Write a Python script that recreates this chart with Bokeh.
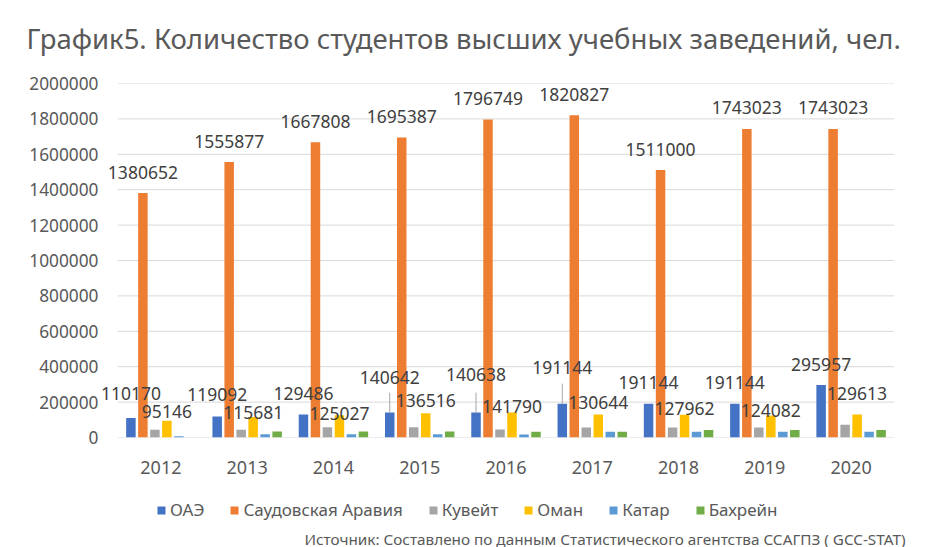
from bokeh.plotting import figure
from bokeh.layouts import column
from bokeh.models import (ColumnDataSource, LabelSet, Label, Legend, LegendItem, Title,
                          FixedTicker, NumeralTickFormatter, Range1d)
from bokeh.transform import dodge
from bokeh.core.properties import value
from bokeh.embed import file_html
from bokeh.resources import INLINE

# ---------------- data ----------------
years = ["2012", "2013", "2014", "2015", "2016", "2017", "2018", "2019", "2020"]
uae = [110170, 119092, 129486, 140642, 140638, 191144, 191144, 191144, 295957]
saudi = [1380652, 1555877, 1667808, 1695387, 1796749, 1820827, 1511000, 1743023, 1743023]
kuwait = [44000, 44000, 58000, 58000, 45000, 57000, 57000, 57000, 72000]
oman = [95146, 115681, 125027, 136516, 141790, 130644, 127962, 124082, 129613]
qatar = [7000, 19000, 19000, 19000, 17000, 32000, 32000, 32000, 32000]
bahrain = [0, 34000, 34000, 34000, 32000, 32000, 43000, 43000, 43000]
series_names = ["ОАЭ", "Саудовская Аравия", "Кувейт", "Оман", "Катар", "Бахрейн"]
y_ticks = [0, 200000, 400000, 600000, 800000, 1000000, 1200000, 1400000, 1600000, 1800000, 2000000]
title_text = "График5. Количество студентов высших учебных заведений, чел."
source_text = "Источник: Составлено по данным Статистического агентства ССАГПЗ ( GCC-STAT)"

# ---------------- styles ----------------
colors = ["#4472C4", "#ED7D31", "#A5A5A5", "#FFC000", "#5B9BD5", "#70AD47"]
uae_label_up = [24, 22, 21, 35, 38, 36, 21, 21, 21]
oman_label_up = [9, 5, 2, 13, 6, 12, 6, 5, 21]
saudi_label_up = [21] * 9
uae_leader = [False, False, False, True, True, True, False, False, False]
leader_px = 20

FONT = "Noto Sans"
TXT = "#595959"
LBL = "#404040"

W = 926
H1 = 490
H2 = 57
FRAME_LEFT = 100
FRAME_TOP = 83
FRAME_H = 354
FRAME_W = 811
YMAX = 2000000
units_per_px = YMAX / FRAME_H
pos = list(range(len(years)))

p = figure(x_range=Range1d(-0.7, 8.7), y_range=Range1d(0, YMAX), title=None,
           width=W, height=H1, output_backend="svg", toolbar_location=None,
           min_border_left=FRAME_LEFT, min_border_right=W - FRAME_LEFT - FRAME_W,
           min_border_top=FRAME_TOP, min_border_bottom=H1 - FRAME_TOP - FRAME_H)
p.outline_line_color = None
p.background_fill_color = "white"
p.border_fill_color = "white"
p.xgrid.grid_line_color = None
p.ygrid.grid_line_color = None

p.yaxis.ticker = FixedTicker(ticks=y_ticks)
p.yaxis.formatter = NumeralTickFormatter(format="0")
p.xaxis.ticker = FixedTicker(ticks=pos)
p.xaxis.major_label_overrides = {i: y for i, y in zip(pos, years)}
for ax in (p.xaxis, p.yaxis):
    ax.axis_line_color = None
    ax.major_tick_line_color = None
    ax.minor_tick_line_color = None
    ax.major_label_text_font = FONT
    ax.major_label_text_color = TXT
p.yaxis.major_tick_out = 0
p.yaxis.major_tick_in = 0
p.yaxis.major_label_text_font_size = "17.3px"
p.yaxis.major_label_standoff = 2
p.xaxis.major_label_standoff = 17
p.xaxis.major_label_text_font_size = "18px"

# gridlines over the category span only
gsrc = ColumnDataSource(dict(x0=[-0.5] * len(y_ticks), x1=[len(years) - 0.5] * len(y_ticks),
                             y=y_ticks))
p.segment(x0="x0", x1="x1", y0="y", y1="y", source=gsrc, line_color="#d9d9d9", line_width=1)

src = ColumnDataSource(dict(pos=pos, uae=uae, saudi=saudi, kuwait=kuwait, oman=oman,
                            qatar=qatar, bahrain=bahrain,
                            uae_up=uae_label_up, oman_up=oman_label_up, saudi_up=saudi_label_up,
                            uae_txt=[str(v) for v in uae], oman_txt=[str(v) for v in oman],
                            saudi_txt=[str(v) for v in saudi]))

step = 0.139
bw = 0.11
cols = ["uae", "saudi", "kuwait", "oman", "qatar", "bahrain"]
for i, c in enumerate(cols):
    off = (i - 2.5) * step
    p.vbar(x=dodge("pos", off), top=c, width=bw, source=src,
           fill_color=colors[i], line_color=None)

# leader lines for some UAE labels
lx = [x for x, f in zip(pos, uae_leader) if f]
ly0 = [v for v, f in zip(uae, uae_leader) if f]
ly1 = [v + leader_px * units_per_px for v in ly0]
lsrc = ColumnDataSource(dict(x=lx, y0=ly0, y1=ly1))
p.segment(x0=dodge("x", -2.5 * step), x1=dodge("x", -2.5 * step),
          y0="y0", y1="y1", source=lsrc, line_color="#a6a6a6", line_width=1)

for col, txt, up, idx in [("saudi", "saudi_txt", "saudi_up", 1),
                          ("uae", "uae_txt", "uae_up", 0),
                          ("oman", "oman_txt", "oman_up", 3)]:
    ls = LabelSet(x=dodge("pos", (idx - 2.5) * step), y=col, text=txt,
                  y_offset=up, source=src, text_align="center", text_baseline="middle",
                  text_font=value(FONT), text_font_size="17.5px", text_color=LBL)
    p.add_layout(ls)

# spacer title next to the frame, real title stacked above it
p.add_layout(Title(text=" ", text_font_size="10px", standoff=14, text_color="white"), "above")
p.add_layout(Title(text=title_text, align="left", offset=-74, standoff=0,
                   text_font=FONT, text_font_size="27.5px", text_font_style="normal",
                   text_color=TXT), "above")

# ---------------- legend + source strip ----------------
q = figure(x_range=Range1d(0, 10), y_range=Range1d(0, 10), width=W, height=H2,
           output_backend="svg", toolbar_location=None, x_axis_type=None, y_axis_type=None,
           min_border_left=FRAME_LEFT, min_border_right=W - FRAME_LEFT - FRAME_W,
           min_border_top=0, min_border_bottom=0)
q.outline_line_color = None
q.xgrid.grid_line_color = None
q.ygrid.grid_line_color = None
q.background_fill_color = "white"
q.border_fill_color = "white"
# legend swatches: one point each, kept outside the visible range
dummies = [q.vbar(x=[-100], bottom=[-30], top=[-20], width=1, fill_color=c, line_color=None)
           for c in colors]
legend = Legend(items=[LegendItem(label=n, renderers=[r]) for n, r in zip(series_names, dummies)],
                orientation="horizontal", location=(156 - FRAME_LEFT, 26), padding=0, margin=0,
                spacing=25, label_standoff=4, glyph_width=10, glyph_height=10,
                label_text_font=FONT, label_text_font_size="17px", label_text_color=TXT,
                border_line_color=None, background_fill_alpha=0)
q.add_layout(legend, "center")
q.add_layout(Label(x=905 - FRAME_LEFT, y=9, x_units="screen", y_units="screen", text=source_text,
                   text_font=FONT, text_font_size="15.3px",
                   text_color=TXT, text_align="right", text_baseline="middle"))

layout = column(p, q, spacing=0)
open("out.html", "w").write(file_html(layout, INLINE))
